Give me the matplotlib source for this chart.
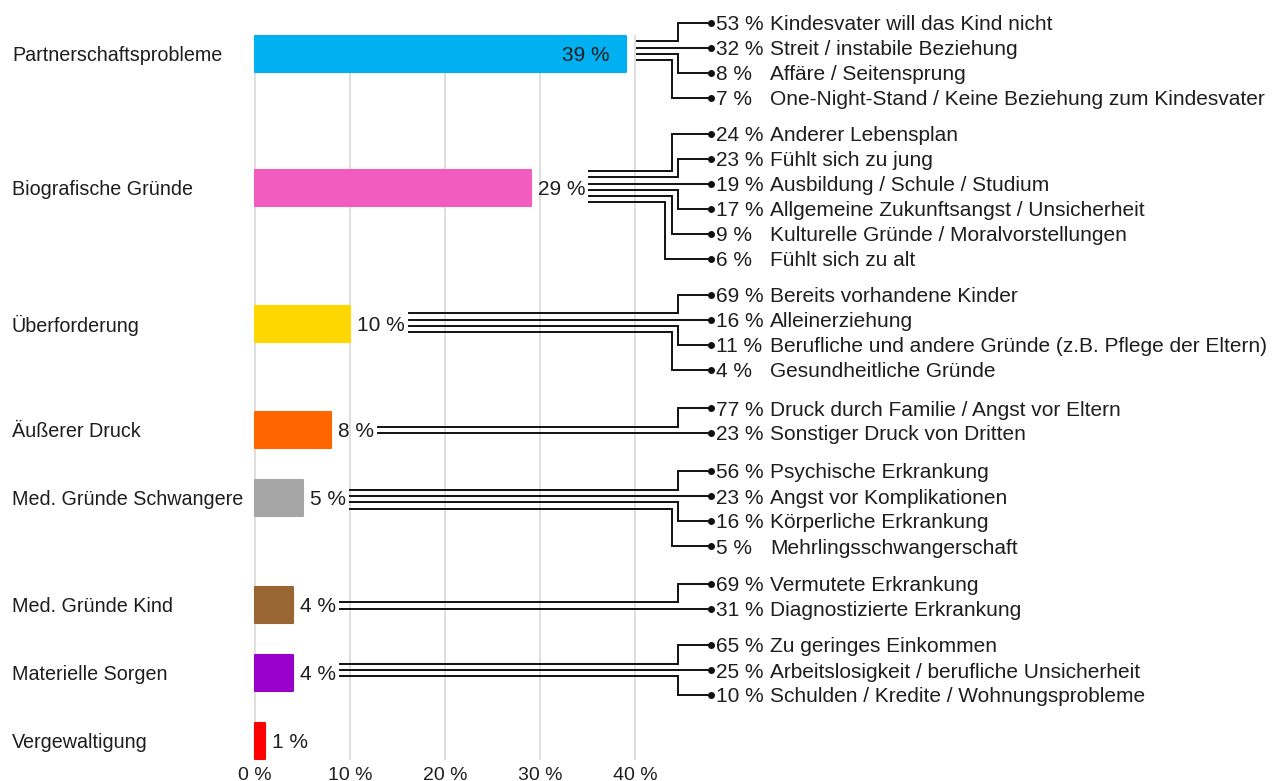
import matplotlib.pyplot as plt

plt.rcParams['font.family'] = ['Liberation Sans', 'DejaVu Sans']

categories = ["Partnerschaftsprobleme", "Biografische Gründe", "Überforderung",
              "Äußerer Druck", "Med. Gründe Schwangere", "Med. Gründe Kind",
              "Materielle Sorgen", "Vergewaltigung"]
shares = [39, 29, 10, 8, 5, 4, 4, 1]
colors = ["#00B0F0", "#F25CBF", "#FFD700", "#FF6600",
          "#A6A6A6", "#996633", "#9900CC", "#FF0000"]

sub_shares = [
    [53, 32, 8, 7],
    [24, 23, 19, 17, 9, 6],
    [69, 16, 11, 4],
    [77, 23],
    [56, 23, 16, 5],
    [69, 31],
    [65, 25, 10],
    [],
]
sub_labels = [
    ["Kindesvater will das Kind nicht", "Streit / instabile Beziehung",
     "Affäre / Seitensprung", "One-Night-Stand / Keine Beziehung zum Kindesvater"],
    ["Anderer Lebensplan", "Fühlt sich zu jung", "Ausbildung / Schule / Studium",
     "Allgemeine Zukunftsangst / Unsicherheit", "Kulturelle Gründe / Moralvorstellungen",
     "Fühlt sich zu alt"],
    ["Bereits vorhandene Kinder", "Alleinerziehung",
     "Berufliche und andere Gründe (z.B. Pflege der Eltern)", "Gesundheitliche Gründe"],
    ["Druck durch Familie / Angst vor Eltern", "Sonstiger Druck von Dritten"],
    ["Psychische Erkrankung", "Angst vor Komplikationen", "Körperliche Erkrankung",
     "Mehrlingsschwangerschaft"],
    ["Vermutete Erkrankung", "Diagnostizierte Erkrankung"],
    ["Zu geringes Einkommen", "Arbeitslosigkeit / berufliche Unsicherheit",
     "Schulden / Kredite / Wohnungsprobleme"],
    [],
]
x_ticks = [0, 10, 20, 30, 40]

# layout in pixels (figure 1285x781 @ 100 dpi)
W, H = 1285, 781
X0 = 255          # pixel position of 0 %
PX = 9.5          # pixels per percent
bar_y = [53.5, 187.5, 323.5, 429.5, 497.5, 604.5, 672.5, 740.5]
straight_idx = [1, 2, 1, 1, 1, 1, 1, None]
straight_y = [47.5, 183.5, 319.5, 433, 496, 608.5, 670, None]
DOT_X, PCT_X, TXT_X = 710.5, 716, 770
FS_CAT = 14.2
FS_SUB = 15
FS_TICK = 14
TXT = "#1e1e1e"


def px(x):
    return (x - X0) / PX


def dpx(d):
    return d / PX


fig = plt.figure(figsize=(W / 100, H / 100), dpi=100)
ax = fig.add_axes([0, 0, 1, 1])
ax.set_xlim(px(0), px(W))
ax.set_ylim(H, 0)
ax.axis('off')

ax.vlines(x_ticks, 35, 760, color="#d9d9d9", lw=1.2, zorder=0)
for t in x_ticks:
    ax.text(t, 773, f"{t} %", ha='center', va='center_baseline', fontsize=FS_TICK, color=TXT)

ax.barh(bar_y, shares, height=36, color=colors, edgecolor=colors, lw=1.5,
        joinstyle='round', zorder=2)

value_texts = []
for i, (cat, v, y) in enumerate(zip(categories, shares, bar_y)):
    ax.text(px(12), y, cat, ha='left', va='center_baseline', fontsize=FS_CAT, color=TXT)
    if i == 0:
        t = ax.text(v - dpx(16), y, f"{v} %", ha='right', va='center_baseline',
                    fontsize=FS_SUB, color=TXT)
    else:
        t = ax.text(v + dpx(7), y, f"{v} %", ha='left', va='center_baseline',
                    fontsize=FS_SUB, color=TXT)
    value_texts.append(t)

fig.canvas.draw()

for i, v in enumerate(shares):
    if not sub_shares[i]:
        continue
    if i == 0:
        x_start = v + dpx(11)
    else:
        x_start = px(value_texts[i].get_window_extent().x1 + 4)
    s = straight_idx[i]
    for j, (p, lab) in enumerate(zip(sub_shares[i], sub_labels[i])):
        ly = straight_y[i] + (j - s) * 6.3
        ty = straight_y[i] + (j - s) * 25
        if j == s:
            xs, ys = [x_start, px(DOT_X)], [ly, ly]
        else:
            ex = px(678.3 - 6.6 * (abs(j - s) - 1))
            xs = [x_start, ex, ex, px(DOT_X)]
            ys = [ly, ly, ty, ty]
        ax.plot(xs, ys, color="#111111", lw=1.4, solid_joinstyle='miter', zorder=3)
        ax.plot(px(DOT_X), ty, 'o', color="#111111", ms=4, zorder=4)
        ax.text(px(PCT_X), ty, f"{p} %", ha='left', va='center_baseline',
                fontsize=FS_SUB, color=TXT)
        ax.text(px(TXT_X), ty, lab, ha='left', va='center_baseline',
                fontsize=FS_SUB, color=TXT)

fig.savefig("out.png", dpi=100)
